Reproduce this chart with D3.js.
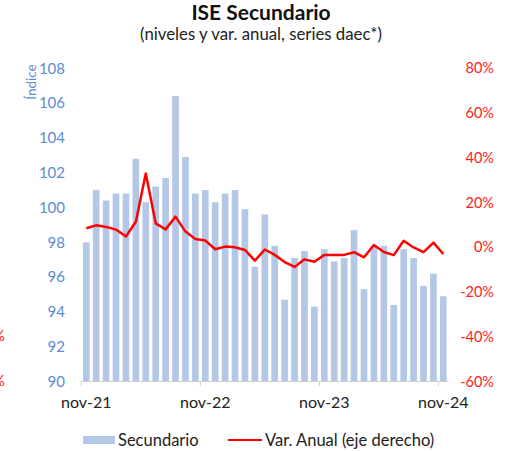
<!DOCTYPE html>
<html>
<head>
<meta charset="utf-8">
<script src="https://cdn.jsdelivr.net/npm/d3@7"></script>
<style>
  body { margin: 0; background: #fff; }
  text { font-family: Lato, "Open Sans", sans-serif; }
</style>
</head>
<body>
<div id="chart"></div>
<script>
const width = 514;
const height = 451;

// categories nov-21 .. nov-24
const monthNames = ["nov", "dic", "ene", "feb", "mar", "abr", "may", "jun", "jul", "ago", "sep", "oct"];
const months = [];
for (let i = 0; i < 37; i++) {
  const yr = 21 + Math.floor((i + 10) / 12);
  months.push(monthNames[i % 12] + "-" + yr);
}

const secundario = [98.0, 101.0, 100.4, 100.8, 100.8, 102.8, 100.3, 101.2, 101.7, 106.4,
  102.9, 100.8, 101.0, 100.3, 100.8, 101.0, 99.9, 96.6, 99.6, 97.8,
  94.7, 97.1, 97.5, 94.3, 97.6, 96.9, 97.1, 98.7, 95.3, 97.8,
  97.8, 94.4, 97.6, 97.1, 95.5, 96.2, 94.9];

const varAnual = [8.5, 9.8, 9.1, 7.9, 4.8, 11.4, 33.0, 10.7, 8.0, 13.7,
  7.0, 3.7, 3.0, -0.9, 0.3, 0.0, -1.2, -6.0, -1.0, -3.4,
  -6.6, -8.8, -5.4, -6.5, -3.4, -3.4, -3.4, -2.2, -4.5, 1.0,
  -2.1, -3.5, 2.9, -0.1, -2.2, 2.1, -3.0];

const leftTicks = [90, 92, 94, 96, 98, 100, 102, 104, 106, 108];
const rightTicks = [-60, -40, -20, 0, 20, 40, 60, 80];
const xLabels = ["nov-21", "nov-22", "nov-23", "nov-24"];

const svg = d3.select("#chart").append("svg")
  .attr("width", width).attr("height", height);

const x = d3.scaleBand().domain(months).range([81.3, 448.3]).paddingInner(0.33).paddingOuter(0.165);
const yL = d3.scaleLinear().domain([90, 108]).range([381.5, 68.3]);
const yR = d3.scaleLinear().domain([-60, 80]).range([381.5, 68.3]);

// title
svg.append("text").attr("x", 261).attr("y", 20).attr("text-anchor", "middle")
  .attr("font-size", 21).attr("font-weight", "bold").attr("fill", "#111")
  .text("ISE Secundario");
svg.append("text").attr("x", 261).attr("y", 40).attr("text-anchor", "middle")
  .attr("font-size", 16.8).attr("fill", "#222")
  .text("(niveles y var. anual, series daec*)");

// bars
svg.append("g").selectAll("rect").data(secundario).join("rect")
  .attr("x", (d, i) => x(months[i]))
  .attr("width", x.bandwidth())
  .attr("y", d => yL(d))
  .attr("height", d => yL(90) - yL(d))
  .attr("fill", "#b4c7e7");

// x axis
const xg = svg.append("g");
xg.append("line").attr("x1", 81.3).attr("x2", 448.3).attr("y1", 381.5).attr("y2", 381.5)
  .attr("stroke", "#d0d0d0").attr("stroke-width", 1);
const step = x.step();
xLabels.forEach(lab => {
  const cx = x(lab) + x.bandwidth() / 2;
  const tx = cx - step / 2;
  xg.append("line").attr("x1", tx).attr("x2", tx).attr("y1", 381.5).attr("y2", 386)
    .attr("stroke", "#d0d0d0");
  xg.append("text").attr("x", cx).attr("y", 408).attr("text-anchor", "middle")
    .attr("font-size", 16).attr("fill", "#222").text(lab);
});

// left axis
const lg = svg.append("g").attr("transform", "translate(65,0)")
  .call(d3.axisLeft(yL).tickValues(leftTicks).tickSize(0).tickPadding(0));
lg.select(".domain").remove();
lg.selectAll("text").attr("font-size", 15).attr("fill", "#5b8bd6")
  .style("font-family", "Lato, sans-serif");

svg.append("text").attr("transform", "translate(36,82) rotate(-90)")
  .attr("text-anchor", "middle").attr("font-size", 13.5).attr("fill", "#5b8bd6")
  .text("Índice");

// right axis
const rg = svg.append("g").attr("transform", "translate(494,0)")
  .call(d3.axisLeft(yR).tickValues(rightTicks).tickSize(0).tickPadding(0).tickFormat(d => d + "%"));
rg.select(".domain").remove();
rg.selectAll("text").attr("font-size", 14.5).attr("fill", "#ff2020")
  .style("font-family", "Lato, sans-serif");

// cut-off labels at the far left edge
[-40, -60].forEach(v => {
  svg.append("text").attr("x", 5).attr("y", yR(v)).attr("dy", "0.32em")
    .attr("text-anchor", "end").attr("font-size", 14.5).attr("fill", "#ff2020").text(v + "%");
});

// line
const line = d3.line()
  .x((d, i) => x(months[i]) + x.bandwidth() / 2)
  .y(d => yR(d));
svg.append("path").datum(varAnual)
  .attr("d", line).attr("fill", "none")
  .attr("stroke", "#ff0000").attr("stroke-width", 2.5).attr("stroke-linejoin", "round");

// legend
const leg = svg.append("g");
leg.append("rect").attr("x", 83).attr("y", 436).attr("width", 32).attr("height", 8).attr("fill", "#b4c7e7");
leg.append("text").attr("x", 118).attr("y", 446).attr("font-size", 16.5).attr("fill", "#222").text("Secundario");
leg.append("line").attr("x1", 228).attr("x2", 262).attr("y1", 440).attr("y2", 440)
  .attr("stroke", "#ff0000").attr("stroke-width", 2);
leg.append("text").attr("x", 265).attr("y", 446).attr("font-size", 16.5).attr("fill", "#222").text("Var. Anual (eje derecho)");
</script>
</body>
</html>
